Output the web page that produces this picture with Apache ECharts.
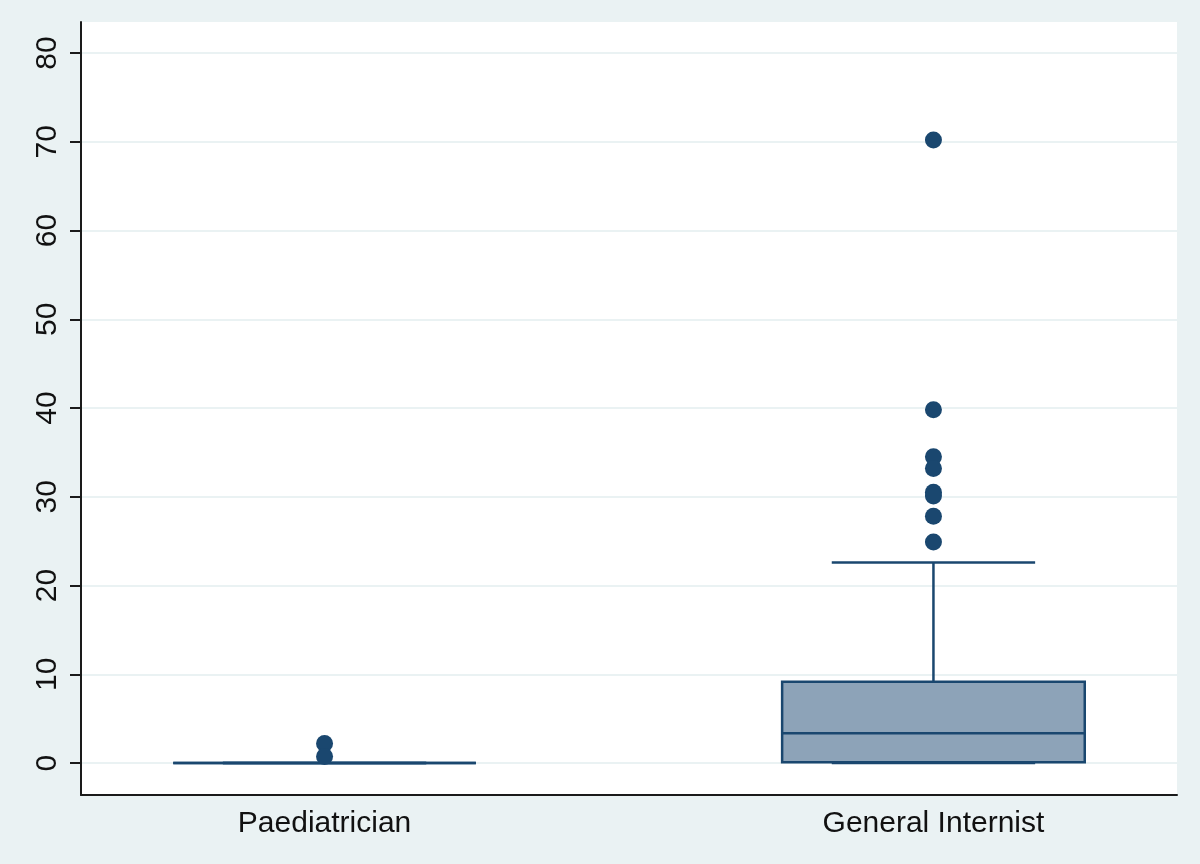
<!DOCTYPE html>
<html>
<head>
<meta charset="utf-8">
<script src="https://cdn.jsdelivr.net/npm/echarts@6/dist/echarts.min.js"></script>
<style>
  html, body { margin: 0; padding: 0; background: #EAF2F3; }
  #main { width: 1200px; height: 864px; }
</style>
</head>
<body>
<div id="main"></div>
<script>
// categories and box statistics
var categories = ['Paediatrician', 'General Internist'];
var lowerWhisker = [0, 0];
var q1 = [0, 0.1];
var median = [0, 3.35];
var q3 = [0, 9.15];
var upperWhisker = [0, 22.6];
// outside values per category
var paedOutliers = [2.2, 0.75];
var internistOutliers = [70.2, 39.8, 34.5, 33.2, 30.5, 30.1, 27.8, 24.9];
// y tick labels
var yTicks = [0, 10, 20, 30, 40, 50, 60, 70, 80];

var navy = '#1A476F';
var font = 'Liberation Sans, Arial, sans-serif';

var boxData = [];
for (var i = 0; i < categories.length; i++) {
    boxData.push([i + 1, lowerWhisker[i], q1[i], median[i], q3[i], upperWhisker[i]]);
}
var outlierData = [];
[paedOutliers, internistOutliers].forEach(function (list, i) {
    list.forEach(function (v) { outlierData.push([i + 1, v]); });
});

// box drawn through the axes' scales
function renderBox(params, api) {
    var x = api.value(0);
    var pLo = api.coord([x, api.value(1)]);
    var pQ1 = api.coord([x, api.value(2)]);
    var pMd = api.coord([x, api.value(3)]);
    var pQ3 = api.coord([x, api.value(4)]);
    var pHi = api.coord([x, api.value(5)]);
    var half = api.size([0.497, 0])[0] / 2;
    var cap = api.size([0.334, 0])[0] / 2;
    var line = { stroke: navy, lineWidth: 2.5, fill: null };
    return {
        type: 'group',
        children: [
            { type: 'line', shape: { x1: pMd[0], y1: pQ3[1], x2: pMd[0], y2: pHi[1] }, style: line },
            { type: 'line', shape: { x1: pMd[0], y1: pQ1[1], x2: pMd[0], y2: pLo[1] }, style: line },
            { type: 'line', shape: { x1: pHi[0] - cap, y1: pHi[1], x2: pHi[0] + cap, y2: pHi[1] }, style: line },
            { type: 'line', shape: { x1: pLo[0] - cap, y1: pLo[1], x2: pLo[0] + cap, y2: pLo[1] }, style: line },
            { type: 'rect', shape: { x: pQ3[0] - half, y: pQ3[1], width: half * 2, height: pQ1[1] - pQ3[1] },
              style: { fill: '#8DA3B8', stroke: navy, lineWidth: 2.5 } },
            { type: 'line', shape: { x1: pMd[0] - half, y1: pMd[1], x2: pMd[0] + half, y2: pMd[1] }, style: line }
        ]
    };
}

var chart = echarts.init(document.getElementById('main'));
chart.setOption({
    backgroundColor: '#EAF2F3',
    animation: false,
    grid: {
        left: 81, right: 23, top: 22, bottom: 69,
        show: true, backgroundColor: '#ffffff', borderWidth: 0
    },
    xAxis: {
        type: 'value', min: 0.6, max: 2.4,
        axisLine: { show: true, onZero: false, lineStyle: { color: '#1a1a1a', width: 2 } },
        axisTick: { show: false },
        splitLine: { show: false },
        axisLabel: {
            customValues: [1, 2],
            formatter: function (v) { return categories[Math.round(v) - 1]; },
            color: '#111', fontSize: 30, fontFamily: font, margin: 14
        }
    },
    yAxis: {
        type: 'value', min: -3.6, max: 83.5,
        axisLine: { show: true, onZero: false, lineStyle: { color: '#1a1a1a', width: 2 } },
        axisTick: { show: true, customValues: yTicks, length: 11, lineStyle: { color: '#1a1a1a', width: 2 } },
        splitLine: { show: true, lineStyle: { color: '#EAF2F3', width: 2 } },
        axisLabel: {
            customValues: yTicks, rotate: 90,
            color: '#111', fontSize: 30, fontFamily: font, margin: 18
        }
    },
    series: [
        {
            type: 'custom', renderItem: renderBox, data: boxData,
            encode: { x: 0, y: [1, 2, 3, 4, 5] }, z: 2
        },
        {
            type: 'scatter', data: outlierData, symbol: 'circle', symbolSize: 17,
            itemStyle: { color: navy, opacity: 1 }, z: 3
        }
    ]
});
</script>
</body>
</html>
